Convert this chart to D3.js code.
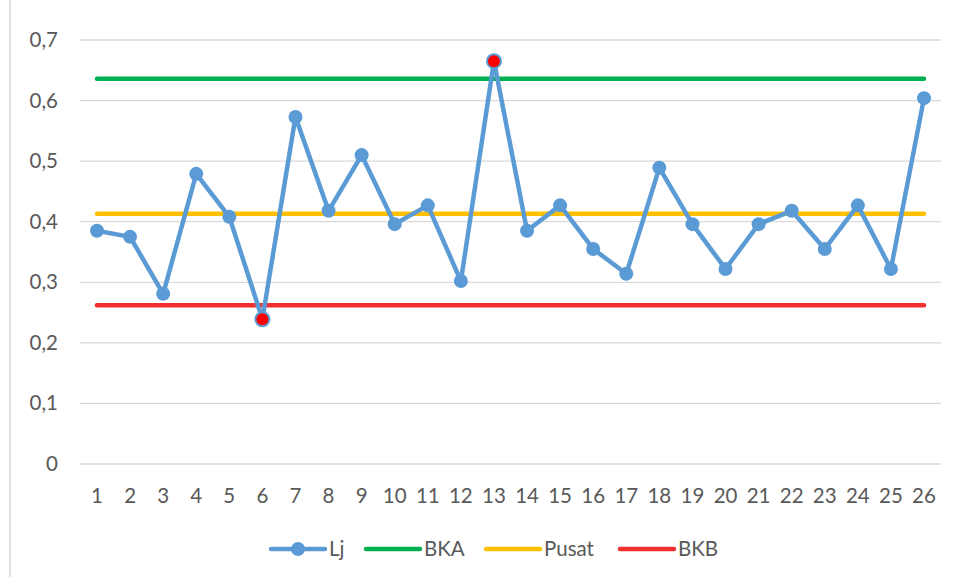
<!DOCTYPE html>
<html><head><meta charset="utf-8">
<script src="https://cdn.jsdelivr.net/npm/d3@7"></script>
<style>body{margin:0;background:#fff;}svg{display:block;font-family:Lato,Carlito,"Open Sans","Liberation Sans",sans-serif;}</style>
</head><body>
<svg id="c" width="956" height="577"></svg>
<script>
const categories = ["1","2","3","4","5","6","7","8","9","10","11","12","13","14","15","16","17","18","19","20","21","22","23","24","25","26"];
const lj = [0.385,0.375,0.281,0.479,0.408,0.239,0.573,0.418,0.510,0.396,0.427,0.302,0.665,0.385,0.427,0.355,0.314,0.489,0.396,0.322,0.396,0.418,0.355,0.427,0.322,0.604];
const bka = 0.636;
const pusat = 0.413;
const bkb = 0.262;
const outOfControl = [6,13];
const yTicks = [0,0.1,0.2,0.3,0.4,0.5,0.6,0.7];
const yTickLabels = ["0","0,1","0,2","0,3","0,4","0,5","0,6","0,7"];
const legendItems = ["Lj","BKA","Pusat","BKB"];

const svg = d3.select("#c");
const colors = {Lj:"#5B9BD5", BKA:"#00B050", Pusat:"#FFC000", BKB:"#F03030"};
const plotL = 80, plotR = 941, plotTop = 40, plotBottom = 464;
const x = d3.scalePoint().domain(categories).range([97,924]);
const y = d3.scaleLinear().domain([0,0.7]).range([plotBottom, plotTop]);
const fs = 20.5, tc = "#595959";

svg.append("line").attr("x1",10).attr("x2",10).attr("y1",0).attr("y2",577).attr("stroke","#d9d9d9").attr("stroke-width",1.5);

svg.append("g").selectAll("line").data(yTicks).join("line")
  .attr("x1",plotL).attr("x2",plotR).attr("y1",d=>y(d)).attr("y2",d=>y(d))
  .attr("stroke","#d9d9d9").attr("stroke-width",1.3);

svg.append("g").selectAll("text").data(yTicks).join("text")
  .attr("x",58).attr("y",d=>y(d)+7).attr("text-anchor","end")
  .attr("font-size",fs).attr("fill",tc).text((d,i)=>yTickLabels[i]);

svg.append("g").selectAll("text").data(categories).join("text")
  .attr("x",d=>x(d)).attr("y",503).attr("text-anchor","middle")
  .attr("font-size",fs).attr("fill",tc).text(d=>d);

const hl = [["BKA",bka],["Pusat",pusat],["BKB",bkb]];
svg.append("g").selectAll("line").data(hl).join("line")
  .attr("x1",x(categories[0])).attr("x2",x(categories[categories.length-1]))
  .attr("y1",d=>y(d[1])).attr("y2",d=>y(d[1]))
  .attr("stroke",d=>colors[d[0]]).attr("stroke-width",4.5).attr("stroke-linecap","round");

const line = d3.line().x((d,i)=>x(categories[i])).y(d=>y(d));
svg.append("path").datum(lj).attr("d",line).attr("fill","none")
  .attr("stroke",colors.Lj).attr("stroke-width",4.5).attr("stroke-linejoin","round").attr("stroke-linecap","round");

svg.append("g").selectAll("circle").data(lj).join("circle")
  .attr("cx",(d,i)=>x(categories[i])).attr("cy",d=>y(d)).attr("r",7)
  .attr("fill",(d,i)=>outOfControl.includes(i+1)?"#FF0000":colors.Lj)
  .attr("stroke",colors.Lj).attr("stroke-width",(d,i)=>outOfControl.includes(i+1)?2:0);

const lg = svg.append("g").attr("transform","translate(0,549)");
const lx = [271, 366, 486, 620];
legendItems.forEach((k,i)=>{
  const g = lg.append("g").attr("transform",`translate(${lx[i]},0)`);
  g.append("line").attr("x1",0).attr("x2",54).attr("y1",0).attr("y2",0)
    .attr("stroke",colors[k]).attr("stroke-width",4.5).attr("stroke-linecap","round");
  if(k==="Lj") g.append("circle").attr("cx",27).attr("cy",0).attr("r",7).attr("fill",colors[k]);
  g.append("text").attr("x",58).attr("y",7).attr("font-size",fs).attr("fill",tc).text(k);
});
</script>
</body></html>
